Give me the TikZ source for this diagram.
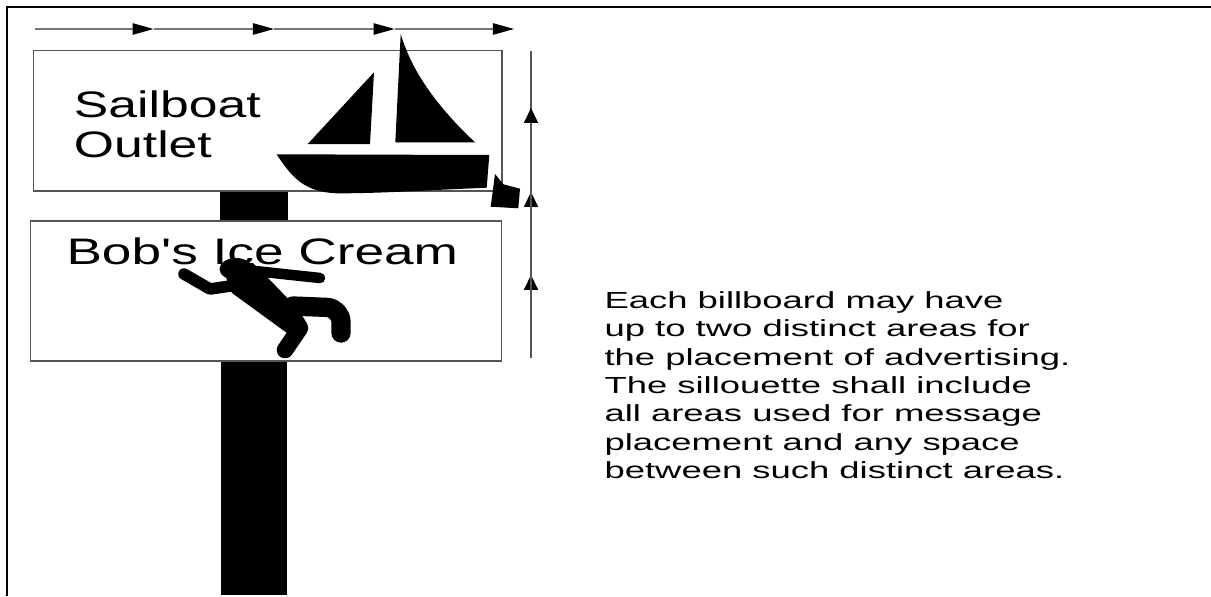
\documentclass[tikz,border=0pt]{standalone}
\usepackage{fontspec}
\setmainfont{Liberation Sans}
\usetikzlibrary{arrows.meta}
\definecolor{lineGrey}{HTML}{555555}
\definecolor{topGrey}{HTML}{777777}
\tikzset{
  signline/.style={draw=lineGrey,line width=0.75pt},
  signtext/.style={transform shape,xscale=1.4,align=left,inner sep=0pt,anchor=north west,font=\fontsize{21}{22.8}\selectfont},
  limb/.style={line width=11pt,line cap=round,line join=round},
  thinlimb/.style={line width=6pt,line cap=round,line join=round}
}
\begin{document}
\begin{tikzpicture}[x=0.02cm,y=-0.02cm]
    \useasboundingbox (0,0) rectangle (1211,596);
    % frame
    \draw[line width=1.3pt] (1211,6.8) -- (6.9,6.8) -- (6.9,596);
    % post and signs
    \fill (220.4,191) rectangle (288,221);
    \fill (221,361) rectangle (287,594.7);
    \draw[signline] (33.6,50.7) rectangle (502,191);
    \draw[signline] (30.7,221) rectangle (501.4,361);
    \node[signtext] (sailboat) at (73.5,90.5) {Sailboat\\Outlet};
    \node[signtext,xscale=1.03] (icecream) at (66,237.5) {Bob\textquotesingle s Ice Cream};
    \node[signtext,xscale=1.118,font=\fontsize{13.25}{16.16}\selectfont] (rule) at (604,291) {Each billboard may have\\up to two distinct areas for\\the placement of advertising.\\The sillouette shall include\\all areas used for message\\placement and any space\\between such distinct areas.};
    % width arrows
    \coordinate (w0) at (34.6,29);
    \coordinate (w1) at (153.6,29);
    \coordinate (w2) at (274,29);
    \coordinate (w3) at (394.6,29);
    \coordinate (w4) at (514,29);
    \foreach \a/\b in {w0/w1,w1/w2,w2/w3,w3/w4}
      \draw[topGrey,line width=0.7pt,-{Triangle[length=12pt,width=6.5pt,black]}] (\a) -- (\b);
    % height arrows
    \coordinate (h0) at (531,358);
    \coordinate (h1) at (531,275);
    \coordinate (h2) at (531,192);
    \coordinate (h3) at (531,108);
    \coordinate (h4) at (531,51);
    \draw[lineGrey,line width=0.8pt] (h0) -- (h4);
    \foreach \b in {h1,h2,h3}
      \draw[-{Triangle[length=8.5pt,width=8pt,black]},line width=0.8pt,lineGrey] (h0) -- (\b);
    % boat
    \fill (276.7,154.3) -- (489.3,155) -- (486.7,187.7) .. controls (430,190) and (380,193.5) .. (336.7,193.3) .. controls (305,192) and (292,178) .. cycle;
    \fill (374,72.3) -- (370,144) -- (307.7,144) -- cycle;
    \fill (400.7,34) -- (395.3,142.3) -- (475,142.3) .. controls (430,100) and (410,65) .. cycle;
    \fill (495,174) -- (503.3,184.3) -- (520,188.7) -- (518.3,208.3) -- (490.7,206.7) -- cycle;
    % falling man
    \fill (236,269) ellipse (16.5 and 11);
    \fill (222,266) -- (253,263) -- (270,280) -- (295,306) -- (306,324) -- (287,333) -- (232,293) -- (227,280) -- cycle;
    \draw[thinlimb,line width=6.6pt] (184,274) -- (210,289) -- (237,285);
    \draw[thinlimb] (255,271) -- (320,278);
    \draw[limb,rounded corners=8pt] (293,306) -- (341,308) -- (341,333);
    \draw[limb,line width=9.5pt] (290,312) -- (300,328) -- (285,350);
\end{tikzpicture}
\end{document}
